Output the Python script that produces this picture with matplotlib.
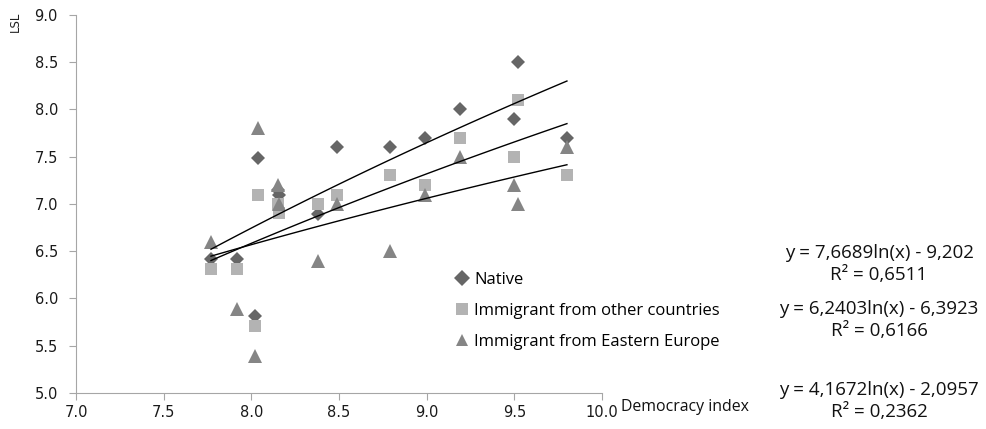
import numpy as np
import matplotlib.pyplot as plt

# democracy index per country and life satisfaction (LSL) per group
democracy = [7.77, 7.92, 8.04, 8.02, 8.15, 8.16, 8.38, 8.49, 8.79, 8.99, 9.19, 9.50, 9.52, 9.80]
native = [6.42, 6.42, 7.49, 5.81, 7.15, 7.10, 6.89, 7.60, 7.60, 7.70, 8.00, 7.90, 8.50, 7.70]
other = [6.31, 6.31, 7.10, 5.71, 7.00, 6.90, 7.00, 7.10, 7.31, 7.20, 7.70, 7.50, 8.10, 7.31]
eastern = [6.60, 5.89, 7.80, 5.39, 7.20, 7.00, 6.40, 7.00, 6.50, 7.10, 7.50, 7.20, 7.00, 7.60]

# logarithmic trend coefficients (a*ln(x) + b) and R^2
fit_a = [7.6689, 6.2403, 4.1672]
fit_b = [-9.202, -6.3923, -2.0957]
fit_r2 = ["0,6511", "0,6166", "0,2362"]
fit_text = ["y = 7,6689ln(x) - 9,202", "y = 6,2403ln(x) - 6,3923", "y = 4,1672ln(x) - 2,0957"]

labels = ["Native", "Immigrant from other countries", "Immigrant from Eastern Europe"]
markers = ["D", "s", "^"]
sizes = [7, 9, 10]
colors = ["#666666", "#b3b3b3", "#858585"]
series = [native, other, eastern]

fig = plt.figure(figsize=(9.86, 4.29), dpi=100)
ax = fig.add_axes([76 / 986, 36 / 429, 526 / 986, 378 / 429])

for ys, m, ms, c, lab in zip(series, markers, sizes, colors, labels):
    ax.plot(democracy, ys, linestyle="none", marker=m, markersize=ms,
            color=c, markeredgewidth=0, label=lab)

xs = np.linspace(min(democracy), max(democracy), 100)
for a, b in zip(fit_a, fit_b):
    ax.plot(xs, a * np.log(xs) + b, color="black", lw=1.0)

ax.set_xlim(7.0, 10.0)
ax.set_ylim(5.0, 9.0)
ax.set_xticks(np.arange(7.0, 10.01, 0.5))
ax.set_yticks(np.arange(5.0, 9.01, 0.5))
ax.xaxis.set_major_formatter(plt.FormatStrFormatter("%.1f"))
ax.yaxis.set_major_formatter(plt.FormatStrFormatter("%.1f"))
for s in ["top", "right"]:
    ax.spines[s].set_visible(False)
for s in ["left", "bottom"]:
    ax.spines[s].set_color("#a6a6a6")
ax.tick_params(colors="#a6a6a6", labelcolor="#1a1a1a", labelsize=10.5, length=5)
ax.tick_params(axis="y", pad=8)

fig.text(15 / 986, 1 - 22 / 429, "LSL", rotation=90, ha="center", va="center",
         fontsize=8.5, color="#222222")
fig.text(621 / 986, 1 - 407 / 429, "Democracy index", ha="left", va="center",
         fontsize=11.4, family="Open Sans", color="#111111")

leg = fig.legend(loc="upper left", bbox_to_anchor=(449 / 986, 1 - 265 / 429),
                 frameon=False, prop={"family": "Open Sans", "size": 12},
                 handlelength=0.8, handletextpad=0.3, labelspacing=0.9,
                 borderaxespad=0)
for h in leg.legend_handles:
    h.set_markersize(8)

eq_y = [253, 309, 390]
for txt, r2, y in zip(fit_text, fit_r2, eq_y):
    fig.text(879 / 986, 1 - y / 429, txt, ha="center", va="center",
             fontsize=13.5, family="Open Sans", color="#111111")
    fig.text(879 / 986, 1 - (y + 22) / 429, "R² = " + r2, ha="center", va="center",
             fontsize=13.5, family="Open Sans", color="#111111")

fig.savefig("out.png", dpi=100)
